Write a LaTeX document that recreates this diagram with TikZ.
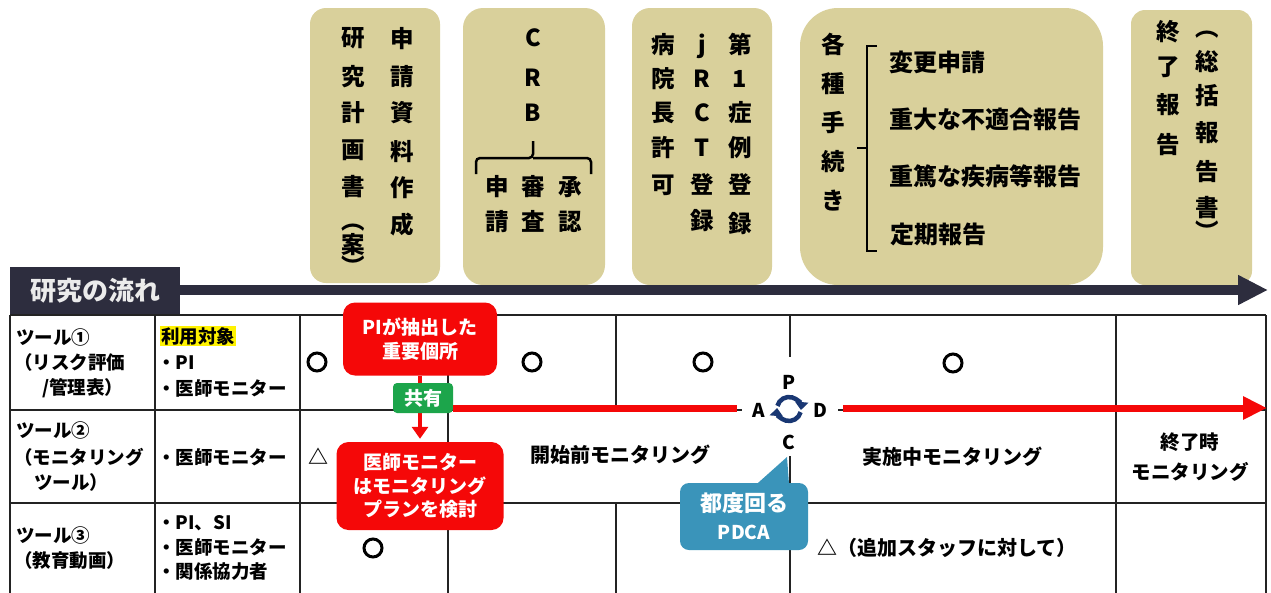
\documentclass[tikz,border=0pt]{standalone}
\usepackage{fontspec}
\setmainfont{Noto Sans CJK JP}
\usetikzlibrary{arrows.meta}
\definecolor{hdrtan}{RGB}{217,208,155}
\definecolor{darkc}{RGB}{45,45,62}
\definecolor{tabline}{RGB}{35,35,35}
\definecolor{boxred}{RGB}{245,8,8}
\definecolor{sharegreen}{RGB}{28,165,75}
\definecolor{bubc}{RGB}{58,148,186}
\definecolor{pdcanavy}{RGB}{25,55,115}
\begin{document}
\begin{tikzpicture}[x=1pt,y=-1pt,
  hbox/.style={fill=hdrtan, inner sep=0pt},
  vch/.style={inner sep=0pt, font=\bfseries\fontsize{23.5}{23.5}\selectfont, text height=0.8em, text depth=0.1em},
  htxt/.style={inner sep=0pt, anchor=west, font=\bfseries\fontsize{24}{24}\selectfont},
  tline/.style={line width=1.6pt, draw=tabline},
  ttxt/.style={inner sep=0pt, font=\bfseries\fontsize{18.5}{24}\selectfont, align=center},
  ltxt/.style={ttxt, anchor=west},
  mtxt/.style={inner sep=0pt, font=\bfseries\fontsize{20}{30}\selectfont, align=center},
  okmark/.style={circle, draw=black, line width=3pt, minimum size=18pt, inner sep=0pt},
  redbox/.style={fill=boxred, rounded corners=12pt, text=white, inner sep=0pt, align=center, font=\bfseries\fontsize{19}{23.5}\selectfont},
  pdl/.style={inner sep=0pt, font=\bfseries\fontsize{19}{19}\selectfont}
]
\useasboundingbox (0,0) rectangle (1271,592);

% ---------- header boxes ----------
\node[hbox, rounded corners=16pt, minimum width=130pt, minimum height=275pt] (hb1) at (375,145.5) {};
\node[hbox, rounded corners=20pt, minimum width=142pt, minimum height=277pt] (hb2) at (534,146.5) {};
\node[hbox, rounded corners=18pt, minimum width=140pt, minimum height=277pt] (hb3) at (702,146.5) {};
\node[hbox, rounded corners=38pt, minimum width=303pt, minimum height=277pt] (hb4) at (951.5,146.5) {};
\node[hbox, rounded corners=14pt, minimum width=121pt, minimum height=275pt] (hb5) at (1191.5,147.5) {};

% box 1
\foreach \c/\y [count=\i] in {申/44,請/82,資/118,料/157,作/193,成/230}
  \node[vch] (a1-\i) at (402,\y) {\c};
\foreach \c/\y [count=\i] in {研/43,究/82,計/118,画/155,書/192,︵/226,案/250,︶/272}
  \node[vch] (a2-\i) at (353,\y) {\c};
% box 2
\foreach \c/\y [count=\i] in {C/43,R/83,B/118}
  \node[vch] (b1-\i) at (533,\y) {\c};
\draw[line width=2.5pt, rounded corners=4pt] (476,174) -- (476,158) -- (533,158) -- (533,141);
\draw[line width=2.5pt, rounded corners=4pt] (533,158) -- (591,158) -- (591,174);
\foreach \c/\y [count=\i] in {申/192,請/227} \node[vch] (b2-\i) at (497,\y) {\c};
\foreach \c/\y [count=\i] in {審/192,査/227} \node[vch] (b3-\i) at (533,\y) {\c};
\foreach \c/\y [count=\i] in {承/192,認/227} \node[vch] (b4-\i) at (570,\y) {\c};
% box 3
\foreach \c/\y [count=\i] in {病/50,院/84,長/118,許/153,可/190}
  \node[vch] (c1-\i) at (663,\y) {\c};
\foreach \c/\y [count=\i] in {j/50,R/84,C/118,T/153,登/190,録/226}
  \node[vch] (c2-\i) at (702,\y) {\c};
\foreach \c/\y [count=\i] in {第/50,1/84,症/118,例/153,登/190,録/229}
  \node[vch] (c3-\i) at (740,\y) {\c};
% box 4
\foreach \c/\y [count=\i] in {各/50,種/89,手/128,続/167,き/206}
  \node[vch] (d1-\i) at (833,\y) {\c};
\draw[line width=2.5pt] (877,46) -- (867,46) -- (867,251) -- (877,251);
\draw[line width=2.5pt] (867,148) -- (857,148);
\node[htxt] (d2) at (889,62) {変更申請};
\node[htxt] (d3) at (889,119) {重大な不適合報告};
\node[htxt] (d4) at (889,176) {重篤な疾病等報告};
\node[htxt] (d5) at (890,234) {定期報告};
% box 5
\foreach \c/\y [count=\i] in {終/37,了/72,報/110,告/150}
  \node[vch] (e1-\i) at (1168,\y) {\c};
\foreach \c/\y [count=\i] in {︵/33,総/67,括/101,報/138,告/177,書/213,︶/237}
  \node[vch] (e2-\i) at (1207,\y) {\c};

% ---------- time line ----------
\node[fill=darkc, minimum width=170pt, minimum height=48pt, inner sep=0pt, text=white!92!black,
      font=\bfseries\fontsize{26}{26}\selectfont] (flow) at (95,291) {研究の流れ};
\coordinate (tlend) at (1268,290);
\draw[darkc, line width=10pt, -{Triangle[length=30pt,width=28pt]}] (flow.east |- tlend) -- (tlend);

% ---------- table ----------
\draw[tline] (10,315) -- (1266,315);
\draw[tline] (10,410) -- (1266,410);
\draw[tline] (10,503) -- (1266,503);
\foreach \x in {10,155,300,448,790,1116,1266} \draw[tline] (\x,315) -- (\x,593);
\draw[tline] (616,315) -- (616,410) (616,503) -- (616,593);
\fill[white] (742,357) rectangle (838,456);

% column 1
\node[ltxt] (t1a) at (16,337) {ツール①};
\node[ltxt] (t1b) at (14,362) {（リスク評価};
\node[ltxt] (t1c) at (42,388) {/管理表）};
\node[ltxt] (t2a) at (16,430) {ツール②};
\node[ltxt] (t2b) at (14,457) {（モニタリング};
\node[ltxt] (t2c) at (34,482) {ツール）};
\node[ltxt] (t3a) at (16,535) {ツール③};
\node[ltxt] (t3b) at (14,560) {（教育動画）};
% column 2
\node[ltxt, fill=yellow, inner sep=1pt] (u0) at (160,336) {利用対象};
\node[ltxt] (u1) at (157,363) {・PI};
\node[ltxt] (u2) at (157,388) {・医師モニター};
\node[ltxt] (u3) at (157,457) {・医師モニター};
\node[ltxt] (u4) at (157,523) {・PI、SI};
\node[ltxt] (u5) at (157,547) {・医師モニター};
\node[ltxt] (u6) at (157,572) {・関係協力者};
% marks
\node[okmark] (m1) at (317,362) {};
\node[okmark] (m2) at (532,362) {};
\node[okmark] (m3) at (703,362) {};
\node[okmark] (m4) at (953,363) {};
\node[okmark] (m5) at (373,548) {};
\node[mtxt] (tri) at (318,456) {△};
\node[mtxt] (pre) at (620,455) {開始前モニタリング};
\node[mtxt] (mid) at (952,457) {実施中モニタリング};
\node[mtxt, font=\bfseries\fontsize{19.5}{30}\selectfont] (end) at (1190,457) {終了時\\モニタリング};
\node[mtxt, anchor=west] (add) at (817,548) {△（追加スタッフに対して）};

% ---------- red flow ----------
\node[redbox, minimum width=154pt, minimum height=73pt] (pi) at (420,339) {PIが抽出した\\重要個所};
\node[redbox, minimum width=167pt, minimum height=88pt] (plan) at (420,486) {医師モニター\\はモニタリング\\プランを検討};
\draw[boxred, line width=4pt, -{Triangle[length=12pt,width=16pt]}, shorten >=3pt] (pi.south) -- (plan.north);
\node[fill=sharegreen, rounded corners=4pt, minimum width=60pt, minimum height=30pt, inner sep=0pt,
      text=white, font=\bfseries\fontsize{19}{19}\selectfont] (share) at (423,398) {共有};
\coordinate (pdcaL) at (737,408);
\coordinate (pdcaR) at (843,408);
\coordinate (arrend) at (1267,408);
\draw[boxred, line width=7pt] (share.east |- pdcaL) -- (pdcaL);
\draw[boxred, line width=7pt, -{Triangle[length=24pt,width=22pt]}] (pdcaR) -- (arrend);

% ---------- PDCA ----------
\coordinate (pc) at (789,409);
\draw[pdcanavy, line width=4.5pt, -{Triangle[length=8pt,width=13pt]}] (pc) ++(-165:12) arc[start angle=-165, end angle=5, radius=12];
\draw[pdcanavy, line width=4.5pt, -{Triangle[length=8pt,width=13pt]}] (pc) ++(15:12) arc[start angle=15, end angle=185, radius=12];
\node[pdl] (pP) at (789,382) {P};
\node[pdl] (pA) at (759,410) {A};
\node[pdl] (pD) at (820,410) {D};
\node[pdl] (pC) at (789,442) {C};

% ---------- bubble ----------
\node[fill=bubc, rounded corners=9pt, minimum width=128pt, minimum height=67pt, inner sep=0pt, text=white,
      align=center, font=\bfseries\fontsize{22}{28}\selectfont] (bub) at (744,516.5) {都度回る\\{\fontsize{19}{28}\selectfont PDCA}};
\coordinate (tip) at (787,457);
\fill[bubc] ([xshift=13pt,yshift=-1pt]bub.north) -- (tip) -- ([xshift=45pt,yshift=-1pt]bub.north) -- cycle;
\end{tikzpicture}
\end{document}
